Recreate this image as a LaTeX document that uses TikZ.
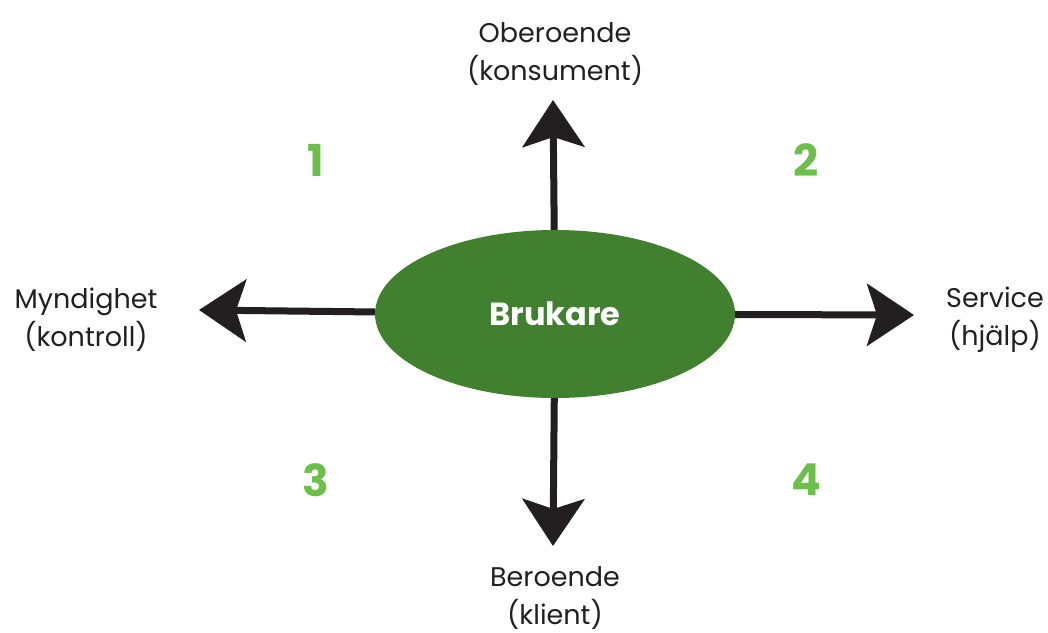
\documentclass[tikz,border=0pt]{standalone}
\usepackage{fontspec}
\setmainfont{Poppins}
\usetikzlibrary{arrows.meta,shapes.geometric}
\definecolor{hubgreen}{RGB}{64,128,46}
\definecolor{numgreen}{RGB}{110,190,75}
\definecolor{ink}{RGB}{35,31,32}
\tikzset{
  hub/.style={ellipse, fill=hubgreen, minimum width=360pt, minimum height=168pt, inner sep=0pt,
              text=white, font=\fontsize{32}{34}\selectfont\bfseries},
  axis/.style={draw=ink, line width=7pt, -{Stealth[length=47pt, width=62pt, inset=10pt]}},
  pole/.style={align=center, text=ink, font=\fontsize{27}{38}\selectfont},
  quad/.style={text=numgreen, font=\fontsize{44}{44}\selectfont\bfseries}
}
\begin{document}
\begin{tikzpicture}[x=1pt,y=-1pt]
  \useasboundingbox (0,0) rectangle (1048,632);
  % central ellipse
  \node[hub] (hub) at (555,314) {Brukare};
  % arrow tips
  \coordinate (tN) at (553,100);
  \coordinate (tS) at (553,546);
  \coordinate (tW) at (199,310);
  \coordinate (tE) at (914,315);
  \draw[axis] (hub) -- (tN);
  \draw[axis] (hub) -- (tS);
  \draw[axis] (hub) -- (tW);
  \draw[axis] (hub) -- (tE);
  % pole labels
  \node[pole] (pN) at (555,54) {Oberoende\\(konsument)};
  \node[pole] (pS) at (555,598) {Beroende\\(klient)};
  \node[pole] (pW) at (86,320) {Myndighet\\(kontroll)};
  \node[pole] (pE) at (995,320) {Service\\(hjälp)};
  % quadrant numbers
  \node[quad] (q1) at (316,160) {1};
  \node[quad] (q2) at (806,160) {2};
  \node[quad] (q3) at (316,480) {3};
  \node[quad] (q4) at (806,480) {4};
\end{tikzpicture}
\end{document}
